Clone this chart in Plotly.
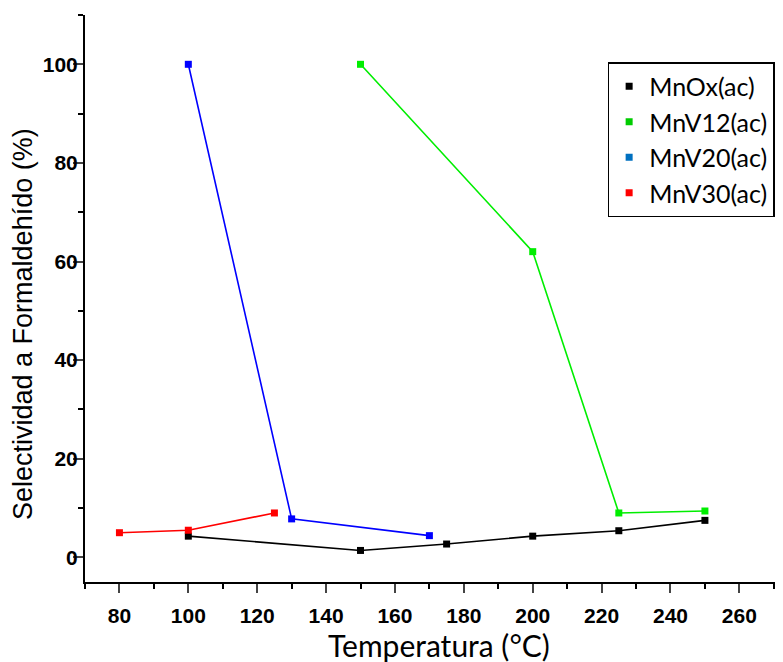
import plotly.graph_objects as go

mnox_x = [100, 150, 175, 200, 225, 250]
mnox_y = [4.3, 1.4, 2.7, 4.3, 5.4, 7.5]
mnv12_x = [150, 200, 225, 250]
mnv12_y = [100, 62, 9.0, 9.4]
mnv20_x = [100, 130, 170]
mnv20_y = [100, 7.8, 4.4]
mnv30_x = [80, 100, 125]
mnv30_y = [5.0, 5.5, 9.0]

names = ["MnOx(ac)", "MnV12(ac)", "MnV20(ac)", "MnV30(ac)"]
line_colors = ["#000000", "#00ee00", "#0000ff", "#ff0000"]
legend_colors = ["#000000", "#00cc00", "#0070c0", "#ff0000"]

fig = go.Figure()
for xs, ys, c in zip([mnox_x, mnv12_x, mnv20_x, mnv30_x],
                     [mnox_y, mnv12_y, mnv20_y, mnv30_y], line_colors):
    fig.add_trace(go.Scatter(x=xs, y=ys, mode="lines+markers",
                             line=dict(color=c, width=1.6),
                             marker=dict(symbol="square", size=7, color=c),
                             showlegend=False))
for n, c in zip(names, legend_colors):
    fig.add_trace(go.Scatter(x=[None], y=[None], mode="markers", name=n,
                             marker=dict(symbol="square", size=7, color=c)))

tickfont = dict(family="Liberation Sans, Arial", size=21, color="black", weight="bold")
fig.update_layout(
    width=775, height=654,
    margin=dict(l=77, r=3, t=7, b=80),
    plot_bgcolor="white", paper_bgcolor="white",
    legend=dict(x=0.752, y=0.917, xanchor="left", yanchor="top",
                bordercolor="black", borderwidth=1.5,
                font=dict(family="Lato, Open Sans", size=25, color="black"),
                itemsizing="trace", tracegroupgap=0),
    annotations=[
        dict(text="Temperatura (°C)", xref="paper", yref="paper", x=0.509, y=0,
             xanchor="center", yanchor="middle", yshift=-63, showarrow=False,
             font=dict(family="Lato, Open Sans", size=30, color="black")),
        dict(text="Selectividad a Formaldehído (%)", xref="paper", yref="paper", x=0, y=0.455,
             xanchor="center", yanchor="middle", xshift=-62, textangle=-90, showarrow=False,
             font=dict(family="Liberation Sans, Arial", size=27, color="black")),
    ],
)
fig.update_xaxes(range=[70, 271.8], tickmode="linear", tick0=80, dtick=20,
                 ticks="outside", ticklen=9, tickwidth=1.5, showline=True,
                 linecolor="black", linewidth=2, showgrid=False, zeroline=False,
                 tickfont=tickfont, automargin=False, ticklabelstandoff=5,
                 minor=dict(ticks="outside", dtick=10, ticklen=5, tickwidth=1.5, tickcolor="black"))
fig.update_yaxes(range=[-5, 110], tickmode="linear", tick0=0, dtick=20,
                 ticks="outside", ticklen=10, tickwidth=1.5, showline=True,
                 linecolor="black", linewidth=2, showgrid=False, zeroline=False,
                 tickfont=tickfont, automargin=False, ticklabelstandoff=-9,
                 minor=dict(ticks="outside", dtick=10, ticklen=5, tickwidth=1.5, tickcolor="black"))
fig.write_html("out.html")
